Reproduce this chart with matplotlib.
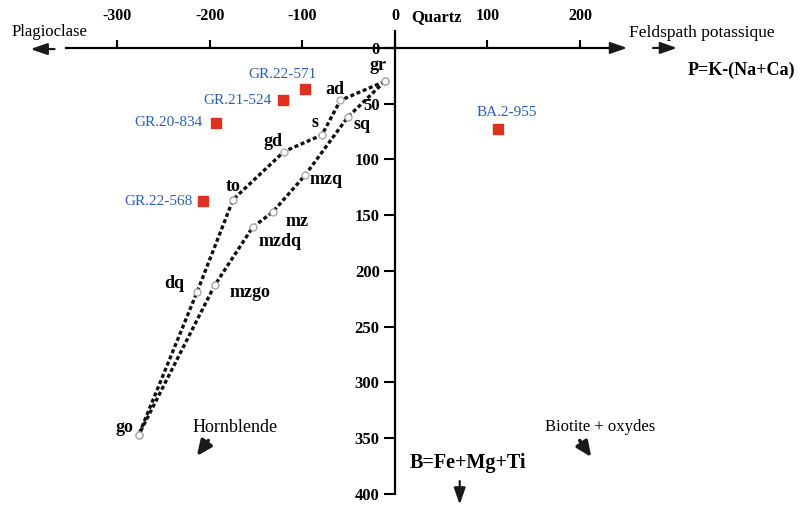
import matplotlib.pyplot as plt

plt.rcParams['font.family'] = ['Liberation Serif', 'DejaVu Serif']
plt.rcParams['axes.unicode_minus'] = False

# reference trends (P, B)
trend1_names = ['gr', 'ad', 's', 'gd', 'to', 'dq', 'go']
trend1_p = [-11, -59, -79, -120, -175, -214, -277]
trend1_b = [30, 47, 78, 93, 136, 219, 347]

trend2_names = ['gr', 'sq', 'mzq', 'mz', 'mzdq', 'mzgo', 'go']
trend2_p = [-11, -51, -97, -132, -154, -195, -277]
trend2_b = [30, 62, 114, 147, 161, 213, 347]

# samples
samples = ['GR.22-571', 'GR.21-524', 'GR.20-834', 'GR.22-568', 'BA.2-955']
sample_p = [-97, -121, -193, -208, 111]
sample_b = [37, 47, 67, 137, 73]

xticks = [-300, -200, -100, 0, 100, 200]
yticks = [0, 50, 100, 150, 200, 250, 300, 350, 400]

fig = plt.figure(figsize=(8.01, 5.08), dpi=100)
ax = fig.add_axes([0, 0, 1, 1])
ax.set_xlim(-427, 439)
ax.set_ylim(412.6, -43)

# axes through origin
for side in ['right', 'bottom']:
    ax.spines[side].set_visible(False)
ax.spines['top'].set_position(('data', 0))
ax.spines['left'].set_position(('data', 0))
ax.spines['top'].set_bounds(-356, 236)
ax.spines['left'].set_bounds(-15, 400)
ax.spines['top'].set_linewidth(1.6)
ax.spines['left'].set_linewidth(1.6)

ax.xaxis.tick_top()
ax.set_xticks(xticks)
ax.set_yticks(yticks)
ax.tick_params(axis='x', direction='out', length=6, width=1.5, pad=11, labelsize=11.5)
ax.tick_params(axis='y', direction='out', length=8, width=1.5, pad=3, labelsize=12)
for lab in ax.get_xticklabels() + ax.get_yticklabels():
    lab.set_fontweight('bold')

# axis arrows
arrow = dict(arrowstyle='-|>,head_length=1.0,head_width=0.35', color='#1a1a1a', lw=1.6)
ax.annotate('', xy=(254, 0), xytext=(234, 0), arrowprops=arrow)
ax.annotate('', xy=(-397, 1), xytext=(-365, 1), arrowprops=arrow)
ax.annotate('', xy=(308, 0), xytext=(276, 0), arrowprops=arrow)
ax.annotate('', xy=(70, 412), xytext=(70, 386), arrowprops=arrow)
ax.annotate('', xy=(-216, 368), xytext=(-200, 350),
            arrowprops=dict(arrowstyle='-|>,head_length=0.9,head_width=0.4', color='#1a1a1a', lw=2.5))
ax.annotate('', xy=(214, 369), xytext=(198, 350),
            arrowprops=dict(arrowstyle='-|>,head_length=0.9,head_width=0.4', color='#1a1a1a', lw=2.5))

# trends
for p, b in [(trend1_p, trend1_b), (trend2_p, trend2_b)]:
    ax.plot(p, b, color='#111111', lw=2.4, linestyle=(0, (1.2, 0.8)),
            marker='o', ms=5, mfc='white', mec='#aaaaaa', mew=1, zorder=3)

point_labels = {'gr': (-18, 16), 'ad': (-65, 37), 's': (-86, 67), 'sq': (-36, 69),
                'gd': (-132, 84), 'to': (-175, 124), 'mzq': (-74, 118), 'mz': (-106, 156),
                'mzdq': (-124, 174), 'dq': (-239, 211), 'mzgo': (-157, 219), 'go': (-292, 340)}
for name, (x, y) in point_labels.items():
    ax.text(x, y, name, fontsize=13, fontweight='bold', ha='center', va='center')

# samples
ax.scatter(sample_p, sample_b, marker='s', s=50, color='#e0301e', zorder=4)
sample_label_pos = [(-122, 24), (-170, 47), (-245, 67), (-256, 138), (121, 58)]
for name, (x, y) in zip(samples, sample_label_pos):
    ax.text(x, y, name, fontsize=11, color='#2b5fb4', ha='center', va='center')

# axis titles
ax.text(-373, -14, 'Plagioclase', fontsize=12, ha='center', va='center')
ax.text(45, -28, 'Quartz', fontsize=12, fontweight='bold', ha='center', va='center')
ax.text(332, -13, 'Feldspath potassique', fontsize=12.5, ha='center', va='center')
ax.text(375, 20, 'P=K-(Na+Ca)', fontsize=13, fontweight='bold', ha='center', va='center')
ax.text(-173, 340, 'Hornblende', fontsize=13, ha='center', va='center')
ax.text(222, 340, 'Biotite + oxydes', fontsize=12, ha='center', va='center')
ax.text(79, 372, 'B=Fe+Mg+Ti', fontsize=14.5, fontweight='bold', ha='center', va='center')

fig.savefig('out.png', dpi=100)
